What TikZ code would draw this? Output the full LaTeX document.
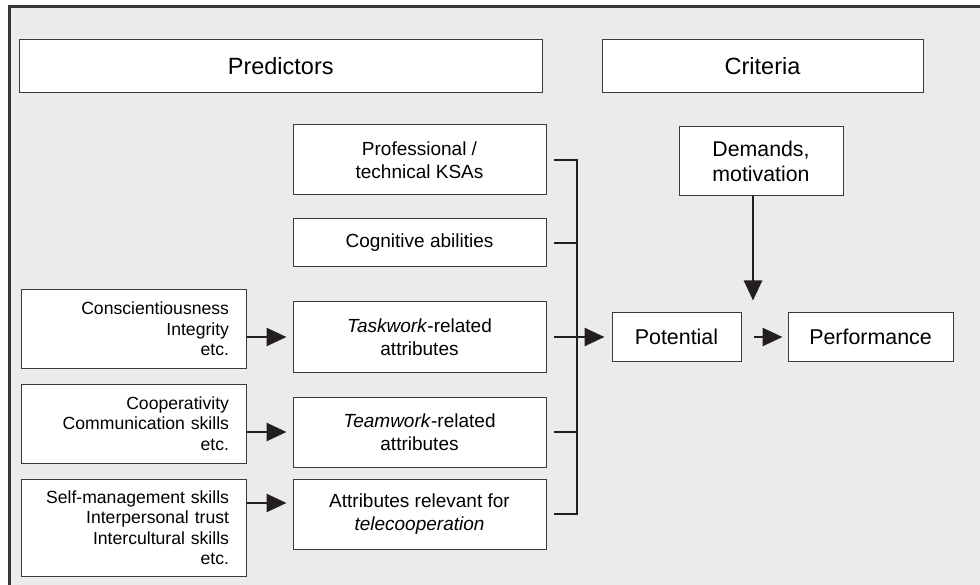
\documentclass[tikz,border=0pt]{standalone}
\usepackage{fontspec}
\setmainfont{Liberation Sans}
\usetikzlibrary{arrows.meta,positioning}

\definecolor{bggray}{HTML}{EBEBED}
\definecolor{linegray}{HTML}{3A3A3C}
\definecolor{inkblack}{HTML}{231F20}

\begin{document}
\begin{tikzpicture}
		[x=1pt,y=-1pt,
		box/.style={rectangle,draw=linegray,fill=white,line width=1pt,inner sep=0pt,align=center},
		head/.style={box,minimum height=53pt,font=\fontsize{23.5}{28}\selectfont},
		predictor/.style={box,minimum width=253pt,minimum height=70pt,font=\fontsize{19}{23}\selectfont},
		source/.style={box,text width=191pt,inner xsep=17pt,align=right,font=\fontsize{17.6}{20.5}\selectfont},
		criterion/.style={box,minimum height=48pt,font=\fontsize{21.4}{25}\selectfont},
		link/.style={draw=inkblack,line width=2.7pt},
		flow/.style={link,-{Triangle[length=20pt,width=18pt]}}]
		\useasboundingbox (0,0) rectangle (980,585);

		% background panel
		\fill [bggray] (9.5,6.5) rectangle (980,585);
		\draw [line width=3pt,inkblack!90] (9.5,585) -- (9.5,6.5) -- (980,6.5);

		% headers
		\node [head,minimum width=522.5pt] (pred) at (280.75,66.5) {Predictors};
		\node [head,minimum width=321pt] (crit) at (762.5,66.5) {Criteria};

		% predictors
		\node [predictor] (prof) at (419.5,160) {Professional /\\technical KSAs};
		\node [predictor,minimum height=48pt] (cogn) at (419.5,243) {Cognitive abilities};
		\node [predictor] (task) at (419.5,337) {\textit{Taskwork}-related\\attributes};
		\node [predictor] (team) at (419.5,432) {\textit{Teamwork}-related\\attributes};
		\node [predictor] (tele) at (419.5,514) {Attributes relevant for\\\textit{telecooperation}};

		% single attributes
		\node [source,minimum height=78pt] (consc) at (133.5,329) {Conscientiousness\\Integrity\\etc.};
		\node [source,minimum height=79pt] (coop) at (133.5,423.5) {Cooperativity\\Communication skills\\etc.};
		\node [source,minimum height=97pt] (self) at (133.5,527.5) {Self-management skills\\Interpersonal trust\\Intercultural skills\\etc.};

		% criteria
		\node [criterion,minimum width=129pt] (pot) at (676.5,337) {Potential};
		\node [criterion,minimum width=165pt] (perf) at (870.5,337) {Performance};
		\node [box,minimum width=164pt,minimum height=69pt,font=\fontsize{21.3}{25}\selectfont] (dem) at (761,161.5) {Demands,\\motivation};

		\coordinate (bar) at (577,0);
		\coordinate (drop) at (753,0);

		\draw [flow,shorten >=6pt] (consc.east |- task.west) -- (task.west);
		\draw [flow,shorten >=6pt] (coop.east |- team.west) -- (team.west);
		\draw [flow,shorten >=6pt] (self.east |- 0,503) -- ([yshift=11pt]tele.west);

		\draw [link] ([xshift=7pt]prof.east) -- (prof.east -| bar) -- (tele.east -| bar) -- ([xshift=7pt]tele.east);
		\draw [link] ([xshift=7pt]cogn.east) -- (cogn.east -| bar);
		\draw [link] ([xshift=7pt]team.east) -- (team.east -| bar);
		\draw [flow,shorten >=7pt] ([xshift=7pt]task.east) -- (pot.west);
		\draw [flow,shorten >=5pt] ([xshift=12pt]pot.east) -- (perf.west);
		\draw [flow,shorten >=12pt] (dem.south -| drop) -- (pot.north -| drop);

	\end{tikzpicture}
\end{document}
